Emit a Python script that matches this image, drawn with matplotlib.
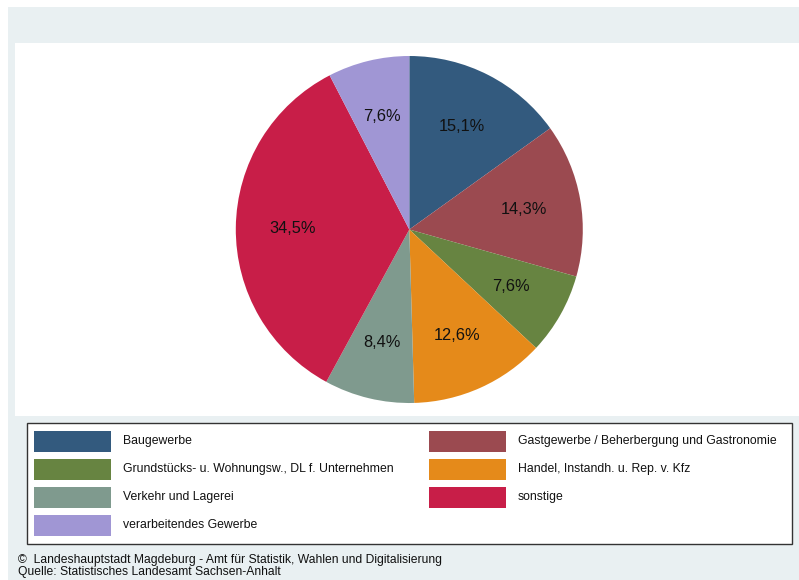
import matplotlib.pyplot as plt
from matplotlib.patches import Rectangle

plt.rcParams['font.family'] = ['Liberation Sans', 'DejaVu Sans']

# data
branches = ["Baugewerbe",
            "Gastgewerbe / Beherbergung und Gastronomie",
            "Grundstücks- u. Wohnungsw., DL f. Unternehmen",
            "Handel, Instandh. u. Rep. v. Kfz",
            "Verkehr und Lagerei",
            "sonstige",
            "verarbeitendes Gewerbe"]
shares = [15.1, 14.3, 7.6, 12.6, 8.4, 34.5, 7.6]
colors = ["#335a7e", "#9b4a50", "#678441", "#e58a1a", "#7f9a8e", "#c81e48", "#a096d4"]

W, H = 799, 580
fig = plt.figure(figsize=(W / 100, H / 100), dpi=100)
fig.patch.set_facecolor("white")

def px(x0, y0, x1, y1):
    # pixel box (top-left origin) -> figure fraction rect
    return (x0 / W, 1 - y1 / H, (x1 - x0) / W, (y1 - y0) / H)

bg = "#e9f0f2"
r = px(8, 7, 799, 580)
fig.patches.append(Rectangle(r[:2], r[2], r[3], transform=fig.transFigure,
                             facecolor=bg, edgecolor="none", zorder=-2))
r = px(15, 43, 799, 416)
fig.patches.append(Rectangle(r[:2], r[2], r[3], transform=fig.transFigure,
                             facecolor="white", edgecolor="none", zorder=-1))

# pie
cx, cy, rad = 409.3, 229.5, 173.5
ax = fig.add_axes(px(cx - rad, cy - rad, cx + rad, cy + rad))
ax.set_zorder(5)
ax.patch.set_visible(False)
ax.pie(shares, colors=colors, startangle=90, counterclock=False,
       autopct=lambda p: f"{p:.1f}%".replace(".", ","), pctdistance=0.67,
       radius=1.0, textprops=dict(fontsize=11.8, color="#111111"),
       wedgeprops=dict(linewidth=0))
ax.set_xlim(-1, 1)
ax.set_ylim(-1, 1)
ax.set_aspect("equal")
ax.axis("off")

# legend box
r = px(26.5, 422.5, 792, 544)
fig.patches.append(Rectangle(r[:2], r[2], r[3], transform=fig.transFigure,
                             facecolor="white", edgecolor="#333333",
                             linewidth=1.0, zorder=1))
rows = [441, 469, 497, 525]
for i, (name, c) in enumerate(zip(branches, colors)):
    col, row = i % 2, i // 2
    x0 = 34 if col == 0 else 429
    y = rows[row]
    s = px(x0, y - 10.5, x0 + 77, y + 10.5)
    fig.patches.append(Rectangle(s[:2], s[2], s[3], transform=fig.transFigure,
                                 facecolor=c, edgecolor="none", zorder=2))
    fig.text((x0 + 89) / W, 1 - y / H, name, fontsize=8.8, va="center",
             ha="left", color="#111111", zorder=3)

# footer
fig.text(18 / W, 1 - 560 / H, "©  Landeshauptstadt Magdeburg - Amt für Statistik, Wahlen und Digitalisierung",
         fontsize=8.7, va="center", ha="left", color="#111111")
fig.text(18 / W, 1 - 572.5 / H, "Quelle: Statistisches Landesamt Sachsen-Anhalt",
         fontsize=8.7, va="center", ha="left", color="#111111")

fig.savefig("out.png", dpi=100, facecolor=fig.get_facecolor())
